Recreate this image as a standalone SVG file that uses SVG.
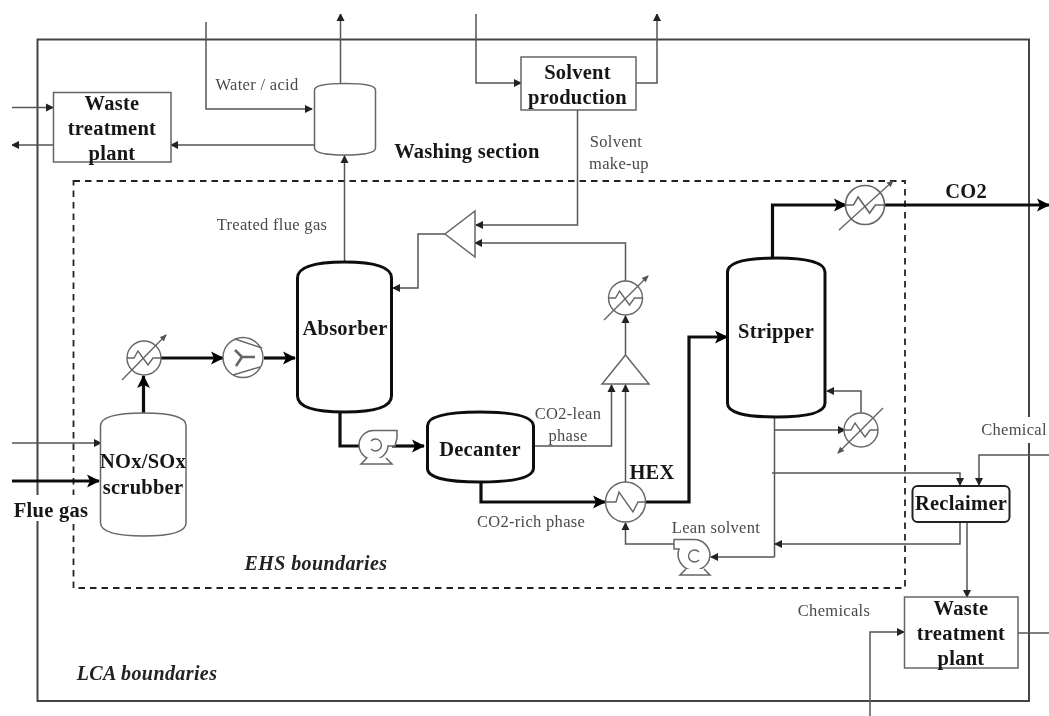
<svg xmlns="http://www.w3.org/2000/svg" width="1049" height="716" viewBox="0 0 1049 716">
<style>
text{font-family:"Liberation Serif","Times New Roman",serif;text-anchor:middle}
.b{font-weight:bold;font-size:20.5px;fill:#151515;letter-spacing:.25px}
.l{font-size:16.5px;fill:#4a4a4a;letter-spacing:.3px}
.i{font-weight:bold;font-style:italic;font-size:20px;fill:#222;letter-spacing:.4px}
.t{fill:none;stroke:#555;stroke-width:1.5}
.k{fill:none;stroke:#111;stroke-width:3.2}
.s{fill:#fff;stroke:#666;stroke-width:1.5}
.v{fill:#fff;stroke:#111;stroke-width:3}
.e{fill:none;stroke:#666;stroke-width:1.4}
</style>
<defs>
<filter id="soft" x="0" y="0" width="100%" height="100%"><feGaussianBlur stdDeviation="0.45"/></filter>
<marker id="a" markerUnits="userSpaceOnUse" markerWidth="10" markerHeight="10" refX="8" refY="5" orient="auto"><path d="M1 1L9 5L1 9Z" fill="#222"/></marker>
<marker id="A" markerUnits="userSpaceOnUse" markerWidth="16" markerHeight="16" refX="13" refY="8" orient="auto"><path d="M1 1.5L14 8L1 14.5L4 8Z" fill="#000"/></marker>
<marker id="m" markerUnits="userSpaceOnUse" markerWidth="8" markerHeight="8" refX="6" refY="4" orient="auto"><path d="M0 1L7 4L0 7Z" fill="#555"/></marker>
<g id="hx">
<circle r="17" fill="#fff" stroke="#666" stroke-width="1.4"/>
<path d="M-17 0H-10L-6 -7L4 7L9 0H17" class="e"/>
</g>
</defs>
<rect width="1049" height="716" fill="#fff"/>
<g filter="url(#soft)">
<g id="boundaries">
<rect id="lca-boundary" x="37.500" y="39.500" width="991.500" height="661.500" fill="none" stroke="#444" stroke-width="2"/>
<rect id="ehs-boundary" x="73.500" y="181" width="831.500" height="407" fill="none" stroke="#222" stroke-width="1.800" stroke-dasharray="6.500 5"/>
</g>
<g id="connectors">
<path class="t" marker-end="url(#a)" d="M12 107.500H53"/>
<path class="t" marker-end="url(#a)" d="M53 145H12"/>
<path class="t" marker-end="url(#a)" d="M314 145H171"/>
<path class="t" marker-end="url(#a)" d="M206 22V109H312"/>
<path class="t" marker-end="url(#a)" d="M340.500 83V14"/>
<path class="t" marker-end="url(#a)" d="M344.500 262V156"/>
<path class="t" marker-end="url(#a)" d="M476 14V83H521"/>
<path class="t" marker-end="url(#a)" d="M636 83H657V14"/>
<path class="t" marker-end="url(#a)" d="M577.500 110V225H476"/>
<path class="t" marker-end="url(#a)" d="M445 234H418V288H393"/>
<path class="t" marker-end="url(#a)" d="M625.500 281V243H475"/>
<path class="t" marker-end="url(#a)" d="M625.500 355V316"/>
<path class="t" marker-end="url(#a)" d="M533 446H611.500V385"/>
<path class="t" marker-end="url(#a)" d="M625.500 482V385"/>
<path class="t" marker-end="url(#a)" d="M12 443H101"/>
<path class="k" marker-end="url(#A)" d="M12 481H99"/>
<path class="k" marker-end="url(#A)" d="M143.500 414V376"/>
<path class="k" marker-end="url(#A)" d="M161 358H223"/>
<path class="k" marker-end="url(#A)" d="M264 358H295"/>
<path class="k" d="M340 412V446H362"/>
<path class="k" marker-end="url(#A)" d="M392 446H424"/>
<path class="k" marker-end="url(#A)" d="M481 482V502H605"/>
<path class="k" marker-end="url(#A)" d="M645 502H689V337H727"/>
<path class="k" marker-end="url(#A)" d="M772.500 258V205H846"/>
<path class="k" marker-end="url(#A)" d="M885 205H1049"/>
<path class="t" d="M774.500 417V557"/>
<path class="t" marker-end="url(#a)" d="M774 430H845"/>
<path class="t" marker-end="url(#a)" d="M861 413V391H827"/>
<path class="t" marker-end="url(#a)" d="M772 473H960V485"/>
<path class="t" marker-end="url(#a)" d="M1049 455H979V485"/>
<path class="t" marker-end="url(#a)" d="M960 522V544H775"/>
<path class="t" marker-end="url(#a)" d="M967 522V597"/>
<path class="t" marker-end="url(#a)" d="M774.500 557H711"/>
<path class="t" marker-end="url(#a)" d="M675 544H625.500V523"/>
<path class="t" d="M1018 633H1049"/>
<path class="t" marker-end="url(#a)" d="M870 716V632H904"/>
</g>
<g id="label-backgrounds" fill="#fff">
<rect x="12" y="495" width="76" height="26"/>
<rect x="978" y="417" width="70" height="26"/>
</g>
<g id="waste-treatment-1"><rect class="s" x="53.500" y="92.500" width="117.500" height="69.500"/><text class="b" x="112" y="110">Waste</text><text class="b" x="112" y="135">treatment</text><text class="b" x="112" y="160">plant</text></g>
<g id="washing-vessel"><path class="s" d="M314.500 90Q314.500 83.500 345 83.500T375.500 90V148Q375.500 155 345 155T314.500 148Z"/></g>
<g id="solvent-production"><rect class="s" x="521" y="57" width="115" height="53"/><text class="b" x="577.500" y="79">Solvent</text><text class="b" x="577.500" y="104">production</text></g>
<g id="splitter"><path class="s" d="M475 211V257L445 234Z"/></g>
<g id="mixer"><path class="s" d="M625.500 355L649 384H602Z"/></g>
<g id="absorber"><path class="v" d="M297.500 278Q297.500 262 344.500 262T391.500 278V396Q391.500 412 344.500 412T297.500 396Z"/><text class="b" x="345" y="335">Absorber</text></g>
<g id="stripper"><path class="v" d="M727.500 272Q727.500 258 776 258T825 272V403Q825 417 776 417T727.500 403Z"/><text class="b" x="776" y="338">Stripper</text></g>
<g id="decanter"><path class="v" d="M427.500 426Q427.500 412 480 412T533.500 426V468Q533.500 482 480 482T427.500 468Z"/><text class="b" x="480" y="456">Decanter</text></g>
<g id="scrubber"><path class="s" d="M100.500 426Q100.500 413 143.500 413T186 426V523Q186 536 143.500 536T100.500 523Z"/><text class="b" x="143" y="468">NOx/SOx</text><text class="b" x="143" y="494">scrubber</text></g>
<g id="reclaimer"><rect x="912.500" y="486" width="97" height="36" rx="5" fill="#fff" stroke="#222" stroke-width="2"/><text class="b" x="961" y="510">Reclaimer</text></g>
<g id="waste-treatment-2"><rect class="s" x="904.500" y="597" width="113.500" height="71"/><text class="b" x="961" y="615">Waste</text><text class="b" x="961" y="640">treatment</text><text class="b" x="961" y="665">plant</text></g>
<g id="hx-scrubber"><use href="#hx" x="144" y="358"/><path class="e" d="M122 380L166 335" marker-end="url(#m)"/></g>
<g id="hx-co2"><use href="#hx" transform="translate(865 205) scale(1.15)"/><path class="e" d="M839 230L893 181" marker-end="url(#m)"/></g>
<g id="hx-lean"><use href="#hx" x="625.500" y="298"/><path class="e" d="M604 320L648 276" marker-end="url(#m)"/></g>
<g id="hx-reboiler"><use href="#hx" x="861" y="430"/><path class="e" d="M883 408L838 453" marker-end="url(#m)"/></g>
<g id="hex"><circle cx="625.500" cy="502" r="20" fill="#fff" stroke="#666" stroke-width="1.400"/><path class="e" d="M606 502H616L619 492L633 512L638 502H645"/></g>
<g id="compressor"><circle cx="243" cy="357.500" r="20" fill="#fff" stroke="#666" stroke-width="1.400"/><path class="e" d="M235 339L262 348M233 375L260 367"/><path d="M242 357L235 350M242 357L255 357M242 357L236 366" fill="none" stroke="#666" stroke-width="2.600"/></g>
<g id="pump-1"><path class="s" d="M375 430.500H397V438L395 446H388A14.500 14.500 0 1 1 375 430.500Z"/><path class="e" d="M371 441A6 6 0 1 1 371 449"/><path class="s" d="M367 458L361 464H392L386 458"/></g>
<g id="pump-2"><path class="s" d="M710 556A16 16 0 1 1 679 549H674V539.500H694A16 16 0 0 1 710 556Z"/><path class="e" d="M699 552A6 6 0 1 0 699 560"/><path class="s" d="M686 569L680 575H710L704 569"/></g>
<g id="labels">
<text class="l" x="257" y="90">Water / acid</text>
<text class="l" x="272" y="230">Treated flue gas</text>
<text class="l" x="616" y="147">Solvent</text>
<text class="l" x="619" y="169">make-up</text>
<text class="l" x="568" y="419">CO2-lean</text>
<text class="l" x="568" y="441">phase</text>
<text class="l" x="531" y="527">CO2-rich phase</text>
<text class="l" x="716" y="533">Lean solvent</text>
<text class="l" x="834" y="616">Chemicals</text>
<text class="l" x="1014" y="435">Chemical</text>
<text class="b" x="467" y="158">Washing section</text>
<text class="b" x="966" y="198">CO2</text>
<text class="b" x="652" y="479">HEX</text>
<text class="b" x="51" y="517">Flue gas</text>
<text class="i" x="316" y="570">EHS boundaries</text>
<text class="i" x="147" y="680">LCA boundaries</text>
</g>
</g>
</svg>
